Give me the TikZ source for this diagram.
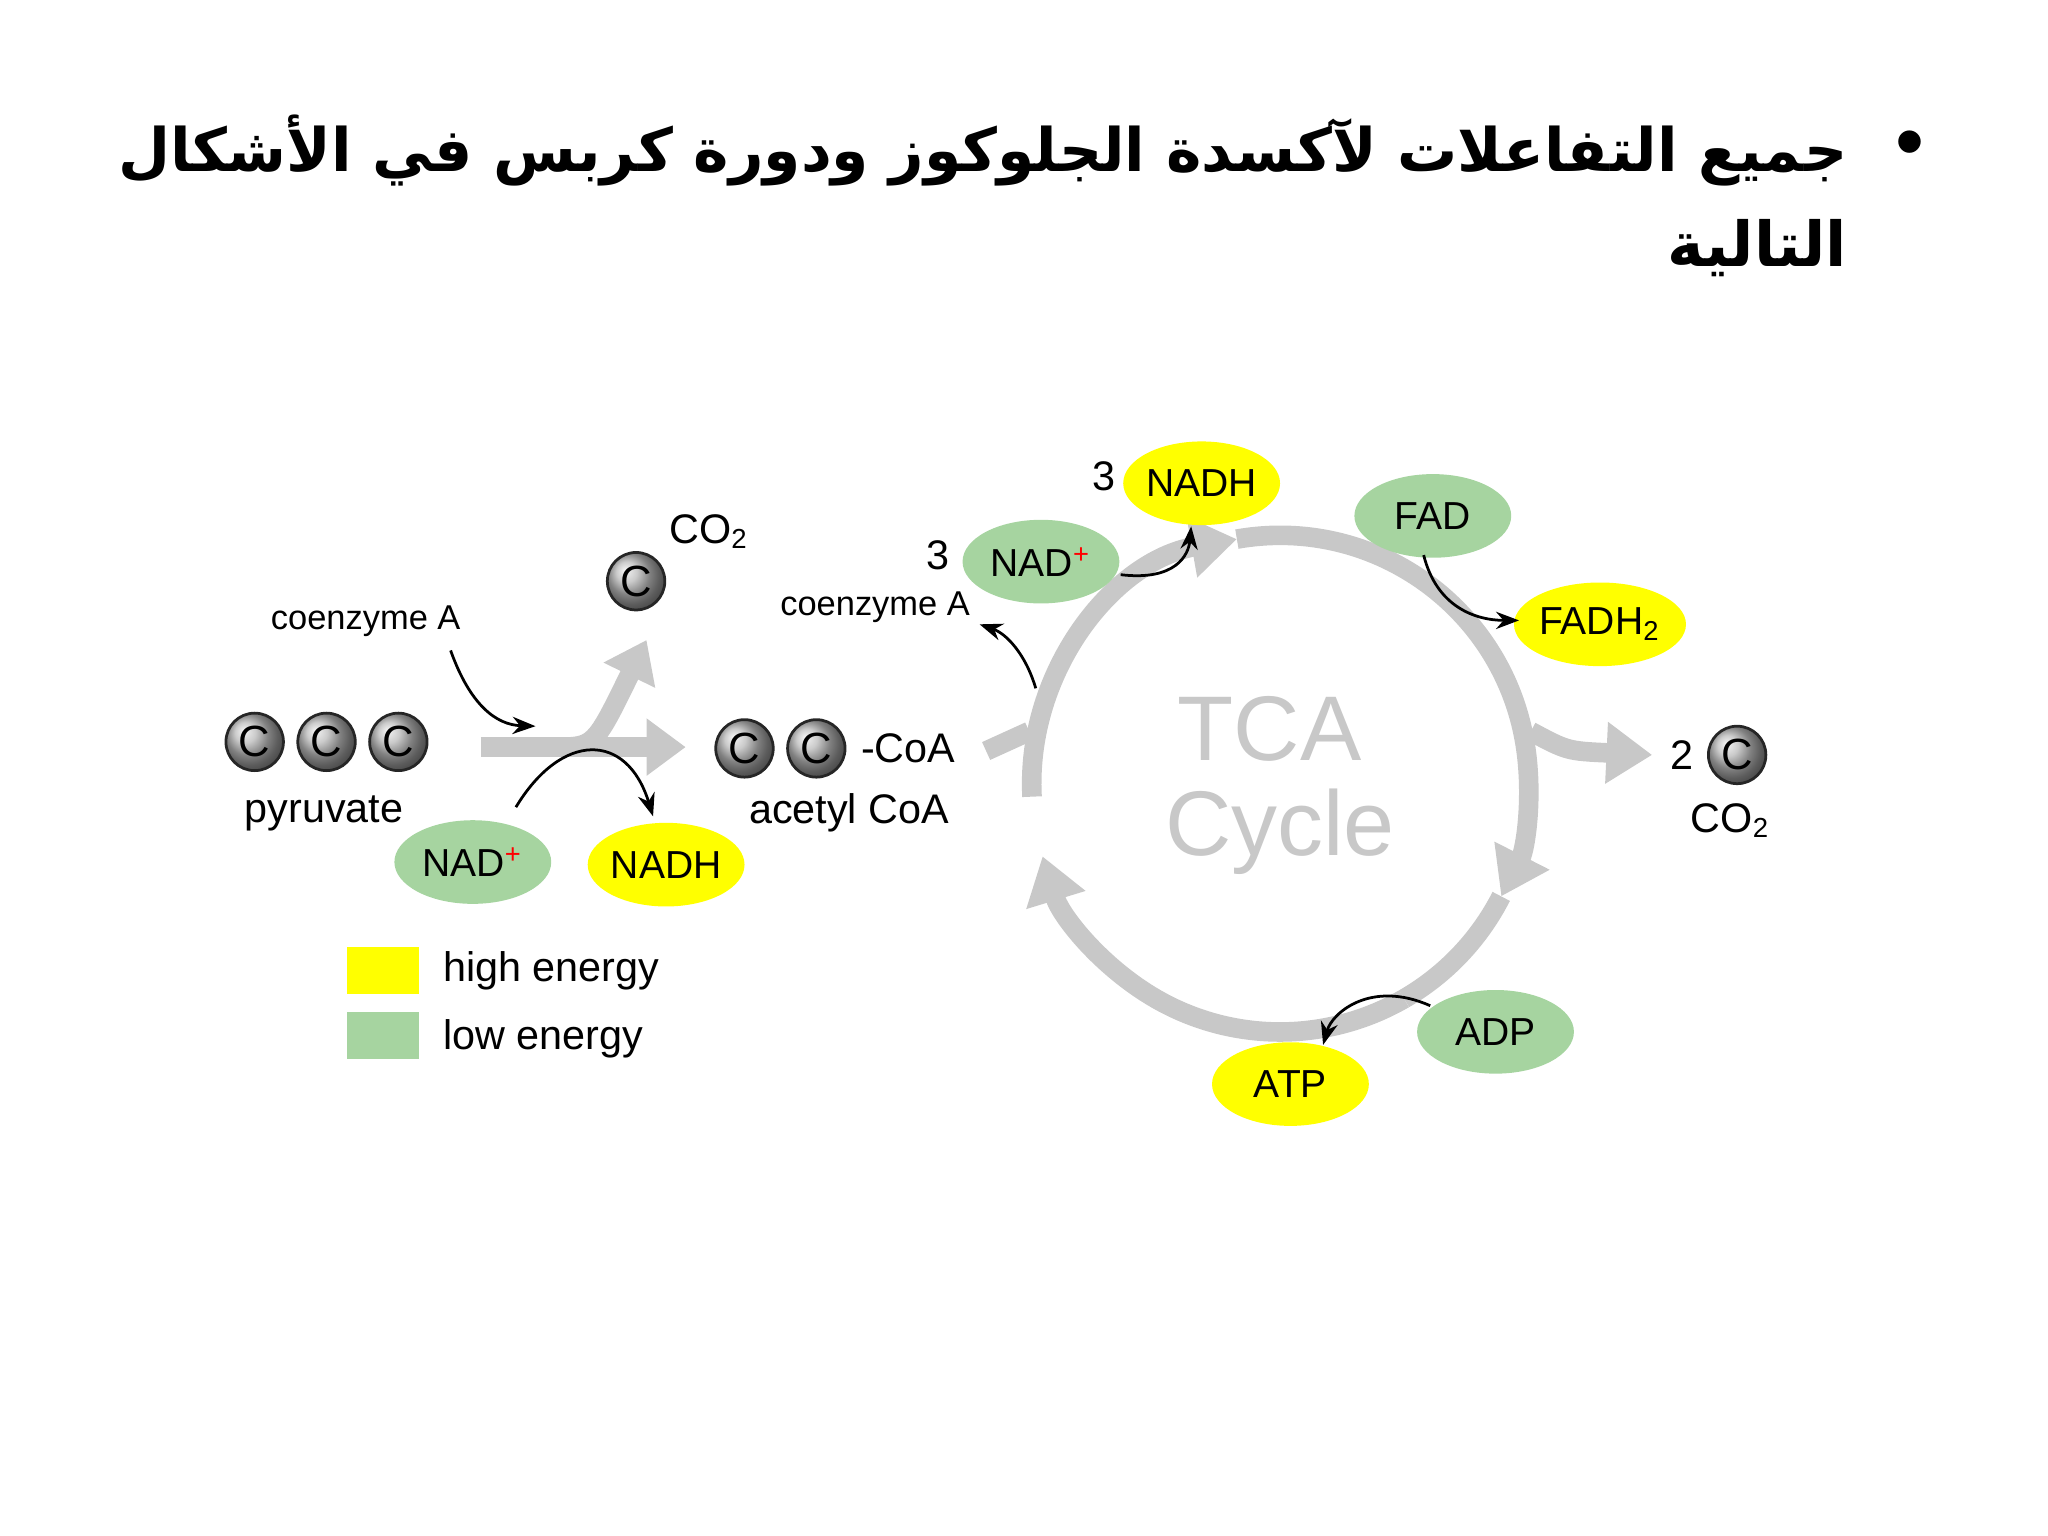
\documentclass[tikz,border=0pt]{standalone}
\usepackage{fontspec}
\setmainfont{Liberation Sans}
\newfontfamily\arabicfont[Script=Arabic]{DejaVu Sans}
\TeXXeTstate=1
\usetikzlibrary{arrows.meta,shapes.geometric}
\definecolor{hy}{RGB}{255,255,0}
\definecolor{lg}{RGB}{166,212,160}
\definecolor{cg}{RGB}{200,200,200}
\tikzset{
 hi/.style={ellipse,fill=hy,minimum width=1.2cm,minimum height=0.64cm,inner sep=0pt,font=\fontsize{8.5}{10}\selectfont},
 lo/.style={ellipse,fill=lg,minimum width=1.2cm,minimum height=0.64cm,inner sep=0pt,font=\fontsize{8.5}{10}\selectfont},
 cb/.style={circle,ball color=gray!55,draw=gray!30!black,line width=0.6pt,minimum size=0.44cm,inner sep=0pt,font=\fontsize{9.5}{10}\selectfont},
 lbl/.style={font=\fontsize{9}{10}\selectfont,inner sep=1pt},
 sm/.style={font=\fontsize{7.5}{9}\selectfont,inner sep=1pt},
 thin/.style={-{Stealth[length=5pt]},line width=0.6pt},
 cyc/.style={cg,line width=0.15cm,-{Triangle[length=0.35cm,width=0.45cm]}},
 cycn/.style={cg,line width=0.15cm},
}
\begin{document}
\begin{tikzpicture}[x=0.01cm,y=-0.01cm]
\useasboundingbox (0,0) rectangle (1568,1176);
% title
\node[anchor=east,inner sep=0] (t1) at (1415,115) {\resizebox{13.23cm}{!}{\fontsize{14}{16}\selectfont\arabicfont\bfseries\beginR جميع التفاعلات لآكسدة الجلوكوز ودورة كربس في الأشكال\endR}};
\node[anchor=east,inner sep=0] (t2) at (1415,190) {\fontsize{13.5}{16}\selectfont\arabicfont\bfseries\beginR التالية\endR};
\node[inner sep=0] (bul) at (1462,115) {\fontsize{18}{20}\selectfont •};
% pyruvate
\node[cb] (p1) at (195,568) {C};
\node[cb] (p2) at (250,568) {C};
\node[cb] (p3) at (305,568) {C};
\node[lbl] (pyr) at (248,623) {pyruvate};
\node[sm] (coa1) at (280,476) {coenzyme A};
% big arrow
\coordinate (ba0) at (368,572);
\coordinate (ba1) at (525,572);
\coordinate (ba2) at (495,490);
\draw[cycn] (ba0) -- (430,572);
\draw[cycn,-{Triangle[length=0.3cm,width=0.42cm]}] (425,572) -- (ba1);
\draw[cycn,-{Triangle[length=0.3cm,width=0.42cm]}] (425,572) .. controls (455,572) .. (ba2);
\draw[thin] (345,498) .. controls (360,540) and (380,555) .. (410,556);
\node[cb] (co2c) at (487,445) {C};
\node[lbl] (co2a) at (543,407) {CO\textsubscript{2}};
\node[lo] (nad1) at (362,660) {NAD\textsuperscript{\textcolor{red}{+}}};
\node[hi] (nadh1) at (510,662) {NADH};
\draw[thin] (395,618) .. controls (430,560) and (480,560) .. (500,625);
% acetyl CoA
\node[cb] (a1) at (570,573) {C};
\node[cb] (a2) at (625,573) {C};
\node[lbl,anchor=west] (coa) at (655,573) {-CoA};
\node[lbl] (acoa) at (650,622) {acetyl CoA};
\node[sm] (coa2) at (670,465) {coenzyme A};
\draw[thin] (793,527) .. controls (785,500) and (770,485) .. (750,478);
% cycle
\coordinate (c) at (980,600);
\draw[cyc] ([shift={(183:1.9cm)}]c) arc[start angle=183,end angle=100,radius=1.9cm];
\draw[cyc] ([shift={(100:1.9cm)}]c) arc[start angle=100,end angle=-27,radius=1.9cm];
\draw[cycn] ([shift={(-27:1.9cm)}]c) arc[start angle=-27,end angle=-60,radius=1.9cm];
\draw[cyc] ([shift={(-60:1.9cm)}]c) arc[start angle=-60,end angle=-163,radius=1.9cm];
\draw[cycn] (755,575) -- (788,560);
\draw[cyc] (1172,560) .. controls (1200,575) .. (1265,578);
\node[text=cg,font=\fontsize{20}{20}\selectfont] (tca) at (972,558) {TCA};
\node[text=cg,font=\fontsize{20}{20}\selectfont] (cyc) at (980,637) {Cycle};
% top
\node[lo] (nad2) at (797,430) {NAD\textsuperscript{\textcolor{red}{+}}};
\node[lbl] (n3a) at (718,425) {3};
\node[hi] (nadh2) at (920,370) {NADH};
\node[lbl] (n3b) at (845,365) {3};
\draw[thin] (858,440) .. controls (900,445) and (910,425) .. (912,403);
\node[lo] (fad) at (1097,395) {FAD};
\node[hi] (fadh) at (1225,478) {FADH\textsubscript{2}};
\draw[thin] (1090,425) .. controls (1100,465) and (1130,475) .. (1163,475);
\node[lbl] (two) at (1288,578) {2};
\node[cb] (co2d) at (1330,578) {C};
\node[lbl] (co2b) at (1325,628) {CO\textsubscript{2}};
\node[lo] (adp) at (1145,790) {ADP};
\node[hi] (atp) at (988,830) {ATP};
\draw[thin] (1095,770) .. controls (1050,750) and (1020,775) .. (1013,800);
% legend
\node[fill=hy,minimum width=0.55cm,minimum height=0.36cm,inner sep=0] (lh) at (293,743) {};
\node[fill=lg,minimum width=0.55cm,minimum height=0.36cm,inner sep=0] (ll) at (293,793) {};
\node[lbl,anchor=west] (lht) at (335,743) {high energy};
\node[lbl,anchor=west] (llt) at (335,795) {low energy};
\end{tikzpicture}
\end{document}
